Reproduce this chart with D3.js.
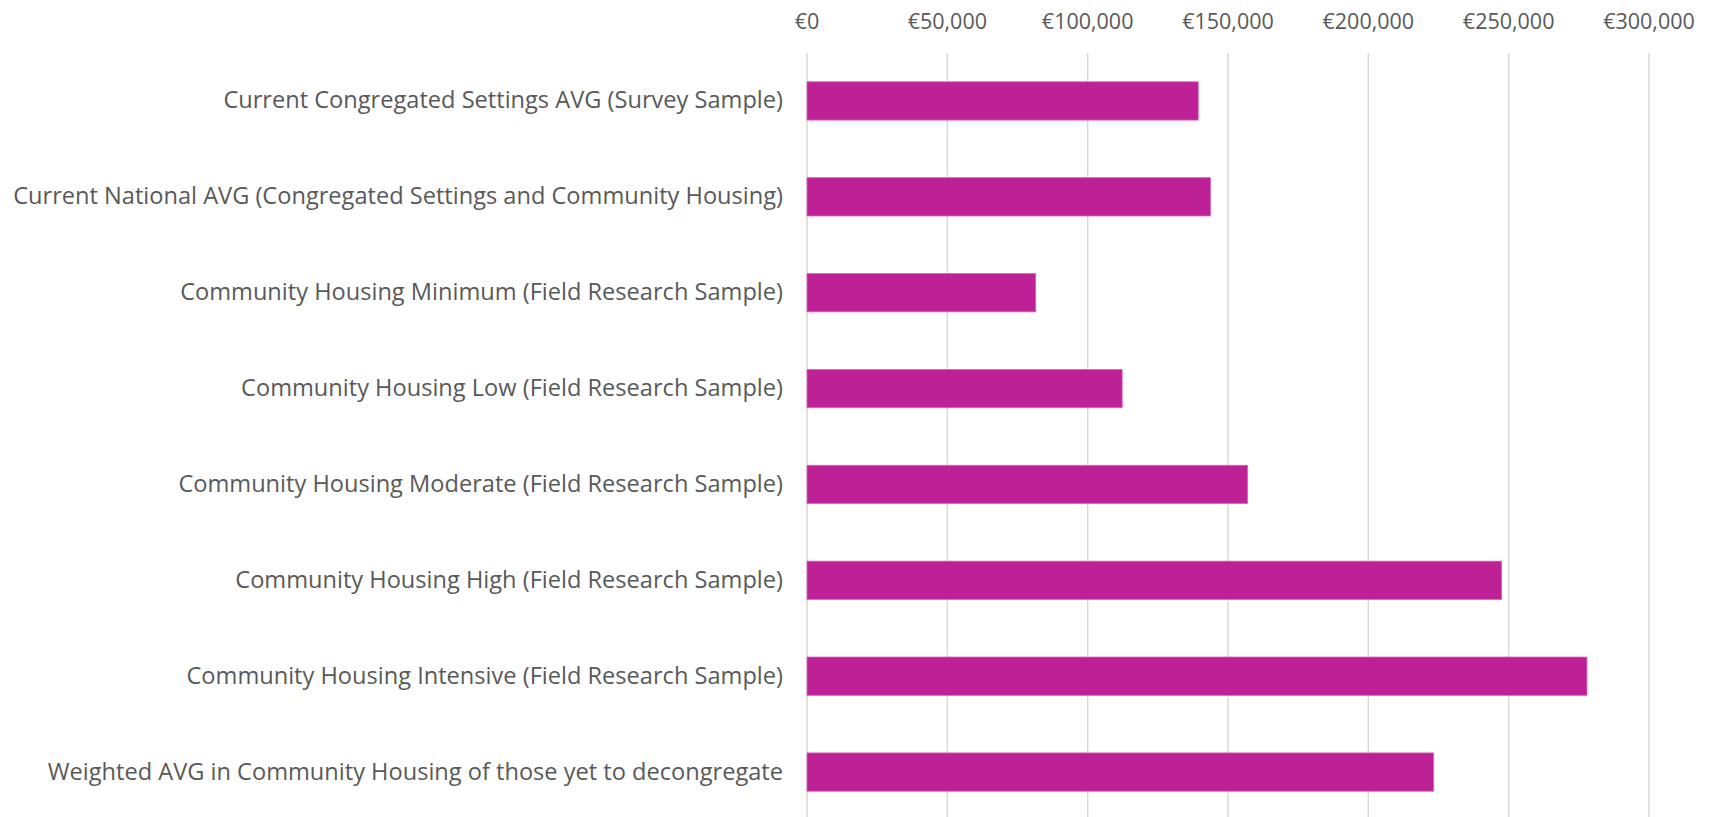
<!DOCTYPE html>
<html>
<head>
<meta charset="utf-8">
<script src="https://cdnjs.cloudflare.com/ajax/libs/d3/7.8.5/d3.min.js"></script>
<style>
  body { margin: 0; background: #fff; }
  svg text { font-family: "Open Sans", "Lato", sans-serif; fill: #595959; }
</style>
</head>
<body>
<div id="chart"></div>
<script>
// categories, top to bottom
const categories = [
    "Current Congregated Settings AVG (Survey Sample)",
    "Current National AVG (Congregated Settings and Community Housing)",
    "Community Housing Minimum (Field Research Sample)",
    "Community Housing Low (Field Research Sample)",
    "Community Housing Moderate (Field Research Sample)",
    "Community Housing High (Field Research Sample)",
    "Community Housing Intensive (Field Research Sample)",
    "Weighted AVG in Community Housing of those yet to decongregate"
];
// cost per person (€)
const costs = [139400, 143800, 81500, 112300, 157000, 247500, 277900, 223300];
const tickValues = [0, 50000, 100000, 150000, 200000, 250000, 300000];

const width = 1715, height = 817;
const margin = { left: 807, right: 66, top: 53, bottom: -3 };

const svg = d3.select("#chart").append("svg")
    .attr("width", width)
    .attr("height", height);

const x = d3.scaleLinear()
    .domain([0, 300000])
    .range([margin.left, width - margin.right]);

const y = d3.scaleBand()
    .domain(categories)
    .range([margin.top, height - margin.bottom])
    .paddingInner(0.6)
    .paddingOuter(0.3);

// gridlines
svg.append("g")
    .selectAll("line")
    .data(tickValues)
    .join("line")
    .attr("x1", d => x(d)).attr("x2", d => x(d))
    .attr("y1", margin.top).attr("y2", height)
    .attr("stroke", "#d9d9d9")
    .attr("stroke-width", 1.5);

// top axis labels
const fmt = d => "€" + d3.format(",")(d);
svg.append("g")
    .selectAll("text")
    .data(tickValues)
    .join("text")
    .attr("x", d => x(d))
    .attr("y", 29)
    .attr("text-anchor", "middle")
    .attr("font-size", "21.5px")
    .text(fmt);

// bars
svg.append("g")
    .selectAll("rect")
    .data(costs)
    .join("rect")
    .attr("x", x(0))
    .attr("y", (d, i) => y(categories[i]))
    .attr("width", d => x(d) - x(0))
    .attr("height", y.bandwidth())
    .attr("fill", "#be2196")
    .attr("stroke", "#d56cb8")
    .attr("stroke-width", 0.8);

// category labels
svg.append("g")
    .selectAll("text")
    .data(categories)
    .join("text")
    .attr("x", 783)
    .attr("y", d => y(d) + y.bandwidth() / 2 + 7.5)
    .attr("text-anchor", "end")
    .attr("font-size", "23.6px")
    .text(d => d);
</script>
</body>
</html>
